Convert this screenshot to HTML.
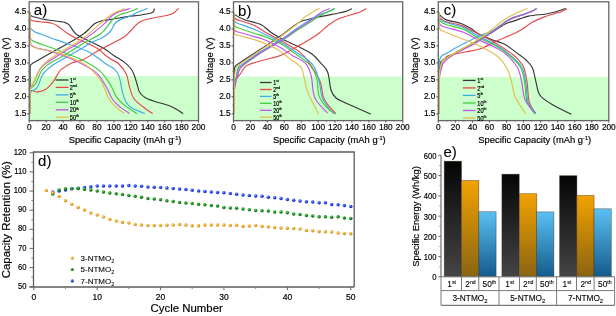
<!DOCTYPE html>
<html><head><meta charset="utf-8"><style>
html,body{margin:0;padding:0;background:#fff;width:616px;height:316px;overflow:hidden}
svg{display:block;will-change:transform}
text{font-family:"Liberation Sans",sans-serif;fill:#000;stroke:#000;stroke-width:0.18px}
.tk{font-size:8.3px}
.tkd{font-size:8.5px}
.tke{font-size:8.5px}
.pl{font-size:15px;fill:#000;stroke-width:0.1px}
.lg{stroke-width:0.2px}
.lgd{font-size:8px;stroke-width:0.08px}
.at{font-size:9.4px}
.atd{font-size:11.4px}
.ate{font-size:9.4px}
.tb{font-size:8.3px;stroke-width:0.1px}
</style></head><body>
<svg width="616" height="316" viewBox="0 0 616 316">
<rect width="616" height="316" fill="#fff"/>
<rect x="29.2" y="76.1" width="169.3" height="44.5" fill="#ccffcc"/>
<path d="M30.1,12.0 L30.1,13.3 Q30.1,15.8 32.5,16.5 C33.8,16.8 36.8,17.8 40.0,18.5 C43.2,19.2 48.4,20.0 51.7,20.5 C55.0,21.0 57.8,21.3 60.0,21.6 C62.2,21.9 63.2,21.8 64.7,22.4 C66.2,22.9 67.6,23.4 69.1,24.9 C70.6,26.4 72.3,29.8 73.9,31.6 C75.5,33.4 76.2,34.3 78.6,35.8 C80.9,37.3 83.8,38.5 88.0,40.6 C92.2,42.7 99.8,46.1 104.0,48.5 C108.2,50.9 109.7,52.8 113.0,55.0 C116.3,57.2 121.0,59.8 123.8,61.9 C126.6,64.0 128.3,65.5 130.0,67.5 C131.7,69.5 132.7,71.4 133.8,74.0 C134.9,76.6 135.9,80.3 136.8,83.3 C137.8,86.3 138.1,89.6 139.5,92.0 C140.9,94.4 142.4,95.9 145.0,97.5 C147.6,99.1 151.4,100.3 155.0,101.5 C158.6,102.7 163.0,103.5 166.5,104.8 C170.0,106.0 173.2,107.5 176.0,109.0 C178.8,110.5 181.9,112.9 183.1,113.7" stroke="#363636" stroke-width="1.15" fill="none"/>
<path d="M30.1,113.8 L30.1,67.3 Q30.1,64.8 32.3,63.6 C35.3,61.8 43.5,57.0 50.2,53.2 C56.9,49.4 66.7,44.3 72.3,41.0 C77.9,37.7 81.2,35.5 84.0,33.5 C86.8,31.5 87.2,30.6 89.0,29.0 C90.8,27.4 92.5,25.1 94.5,23.8 C96.5,22.5 98.0,21.8 101.2,21.0 C104.4,20.2 109.1,19.7 113.5,19.0 C117.9,18.3 123.4,17.2 127.8,16.6 C132.2,16.0 136.2,15.8 140.0,15.2 C143.8,14.6 148.1,13.9 150.4,13.3 C152.7,12.7 153.1,12.2 153.7,11.4 C154.3,10.6 154.1,9.0 154.2,8.5" stroke="#363636" stroke-width="1.15" fill="none"/>
<path d="M30.1,12.0 L30.1,17.8 Q30.1,20.3 32.6,20.7 C33.8,20.9 36.8,21.4 40.0,21.8 C43.2,22.2 48.7,22.4 51.7,23.2 C54.7,23.9 55.4,24.6 58.0,26.3 C60.6,28.0 64.2,31.2 67.6,33.4 C71.0,35.6 75.2,37.9 78.6,39.6 C82.0,41.3 84.7,42.1 88.0,43.7 C91.3,45.3 95.5,47.1 98.3,49.0 C101.1,50.9 102.9,53.2 105.1,55.0 C107.3,56.8 109.3,58.0 111.6,59.5 C113.9,61.0 116.5,61.6 118.9,64.0 C121.4,66.4 124.5,70.3 126.3,74.1 C128.1,77.9 128.2,82.7 129.5,86.8 C130.8,90.9 131.2,94.9 133.8,98.5 C136.4,102.1 142.0,106.0 145.2,108.5 C148.3,111.0 151.4,112.7 152.7,113.5" stroke="#e44848" stroke-width="1.15" fill="none"/>
<path d="M30.1,113.8 L30.1,92.5 Q30.1,90.0 32.5,90.6 C33.4,90.8 35.4,92.1 37.5,91.9 C39.6,91.7 42.8,91.3 45.4,89.6 C48.0,87.9 51.2,84.2 53.3,81.6 C55.4,78.9 56.7,75.7 58.0,73.7 C59.3,71.7 58.9,71.2 61.3,69.4 C63.7,67.6 68.6,64.5 72.3,62.8 C76.0,61.1 79.2,61.5 83.4,59.5 C87.6,57.5 93.9,53.1 97.6,51.0 C101.3,48.9 101.2,49.1 105.6,46.8 C110.0,44.5 119.8,39.7 124.0,37.0 C128.2,34.3 128.9,32.6 131.0,30.5 C133.1,28.4 134.4,26.2 136.6,24.5 C138.8,22.8 139.3,21.5 144.3,20.0 C149.3,18.5 161.7,16.6 166.5,15.5 C171.3,14.4 171.2,14.5 173.2,13.3 C175.2,12.1 177.8,9.2 178.7,8.4" stroke="#e44848" stroke-width="1.15" fill="none"/>
<path d="M30.1,12.0 L30.1,26.0 Q30.1,28.5 32.2,29.9 C32.8,30.3 34.5,31.7 35.9,32.4 C37.3,33.1 38.1,33.0 40.7,34.0 C43.3,35.0 47.2,36.6 51.7,38.2 C56.2,39.8 61.5,41.5 67.6,43.7 C73.6,45.9 82.6,49.0 88.0,51.6 C93.4,54.2 96.8,57.4 100.0,59.5 C103.2,61.6 104.6,62.9 107.0,64.5 C109.4,66.1 112.3,67.1 114.3,69.0 C116.3,70.9 117.6,72.1 119.0,76.1 C120.4,80.1 121.4,88.5 122.6,92.8 C123.8,97.1 124.6,99.5 126.0,102.0 C127.4,104.5 129.0,106.0 131.0,107.5 C133.0,109.0 135.7,109.8 138.0,110.8 C140.3,111.8 143.9,113.2 145.1,113.7" stroke="#40aaea" stroke-width="1.15" fill="none"/>
<path d="M30.1,113.8 L30.1,94.5 Q30.1,92.0 32.2,90.6 C33.1,90.1 35.8,89.8 37.5,87.2 C39.2,84.6 40.6,78.2 42.2,75.3 C43.8,72.4 45.2,71.5 47.0,69.8 C48.8,68.1 50.6,66.6 53.0,65.0 C55.4,63.4 56.2,62.9 61.3,60.0 C66.4,57.1 78.6,50.3 83.4,47.5 C88.2,44.7 86.8,44.7 90.0,43.0 C93.2,41.3 99.3,39.4 102.7,37.5 C106.1,35.6 108.2,33.9 110.3,31.5 C112.4,29.1 113.4,25.1 115.3,23.0 C117.2,20.9 119.1,20.0 121.6,18.9 C124.0,17.8 127.4,17.4 130.0,16.3 C132.6,15.2 134.1,13.8 137.0,12.5 C139.9,11.2 145.8,9.2 147.6,8.5" stroke="#40aaea" stroke-width="1.15" fill="none"/>
<path d="M30.1,12.0 L30.1,33.3 Q30.1,35.8 30.6,37.8 C30.7,38.1 30.1,38.9 31.2,39.8 C32.3,40.6 34.1,41.6 37.5,42.9 C40.9,44.2 46.7,45.9 51.7,47.7 C56.7,49.6 62.0,51.7 67.6,54.0 C73.1,56.3 79.6,58.6 85.0,61.4 C90.4,64.2 95.6,67.0 99.8,70.9 C104.0,74.8 107.6,80.3 110.4,84.7 C113.2,89.1 114.3,93.9 116.8,97.4 C119.3,100.9 121.9,103.2 125.3,105.9 C128.7,108.6 135.0,112.2 136.9,113.5" stroke="#40cc40" stroke-width="1.15" fill="none"/>
<path d="M30.1,113.8 L30.1,91.5 Q30.1,89.0 31.9,87.2 C32.5,86.6 34.4,85.7 35.9,83.2 C37.4,80.7 39.1,75.0 40.7,72.2 C42.3,69.4 43.5,68.3 45.4,66.6 C47.3,64.9 49.4,63.6 52.0,62.0 C54.6,60.4 56.1,60.1 61.3,57.0 C66.5,53.9 76.8,47.2 83.4,43.2 C90.1,39.2 96.4,37.2 101.2,33.3 C106.0,29.4 109.2,23.1 112.3,20.0 C115.4,16.9 117.4,15.8 120.0,14.5 C122.6,13.2 124.8,13.2 127.8,12.2 C130.8,11.2 136.4,9.1 138.1,8.5" stroke="#40cc40" stroke-width="1.15" fill="none"/>
<path d="M30.1,12.0 L30.1,38.1 Q30.1,40.6 30.6,43.0 C30.7,43.3 30.3,44.5 31.2,45.3 C32.1,46.1 32.5,46.7 35.9,47.7 C39.3,48.8 46.4,50.0 51.7,51.6 C57.0,53.2 62.0,54.9 67.6,57.2 C73.1,59.5 80.0,62.8 85.0,65.6 C90.0,68.4 94.2,70.6 97.7,74.1 C101.2,77.6 103.7,82.6 106.2,86.8 C108.7,91.0 110.3,96.2 112.6,99.5 C114.9,102.8 117.2,104.6 120.0,106.9 C122.8,109.2 127.9,112.4 129.5,113.5" stroke="#c452ea" stroke-width="1.15" fill="none"/>
<path d="M30.1,113.8 L30.1,91.0 Q30.1,88.5 31.4,86.4 C31.9,85.6 33.0,84.2 34.3,81.6 C35.6,79.0 37.5,73.4 39.1,70.6 C40.7,67.8 41.8,66.8 43.8,65.0 C45.8,63.2 48.1,61.9 51.0,60.0 C53.9,58.1 55.9,56.9 61.3,53.5 C66.7,50.1 76.8,44.4 83.4,39.9 C90.1,35.4 96.4,30.7 101.2,26.6 C106.0,22.5 109.2,18.0 112.3,15.5 C115.4,13.0 117.0,12.7 120.0,11.5 C123.0,10.3 128.8,9.0 130.5,8.5" stroke="#c452ea" stroke-width="1.15" fill="none"/>
<path d="M30.1,12.0 L30.1,37.5 Q30.1,40.0 30.6,42.4 C30.7,42.9 30.1,44.0 31.2,45.0 C32.3,46.0 32.8,47.1 37.5,48.5 C42.2,49.9 51.7,50.7 59.6,53.4 C67.5,56.1 79.0,61.0 85.0,64.5 C91.0,68.0 92.8,71.1 95.6,74.1 C98.4,77.1 99.9,78.7 102.0,82.6 C104.1,86.5 106.2,93.5 108.3,97.4 C110.4,101.3 112.0,103.2 114.7,105.9 C117.4,108.6 122.6,112.2 124.2,113.5" stroke="#e4bc50" stroke-width="1.15" fill="none"/>
<path d="M30.1,113.8 L30.1,91.5 Q30.1,89.0 31.3,86.8 C31.8,86.0 32.7,84.7 34.0,82.0 C35.3,79.3 37.4,73.4 39.0,70.5 C40.6,67.6 41.7,66.4 43.5,64.5 C45.3,62.6 47.0,61.1 50.0,59.0 C53.0,56.9 55.7,55.3 61.3,51.8 C66.9,48.3 77.1,42.5 83.4,38.0 C89.7,33.5 94.6,28.4 99.0,24.6 C103.4,20.9 106.9,17.7 110.0,15.5 C113.1,13.3 115.0,12.7 117.5,11.5 C120.0,10.3 123.6,9.0 124.8,8.5" stroke="#e4bc50" stroke-width="1.15" fill="none"/>
<rect x="29.2" y="1.8" width="169.3" height="118.8" fill="none" stroke="#666" stroke-width="1.3"/>
<line x1="27.2" y1="113.8" x2="29.2" y2="113.8" stroke="#555" stroke-width="1"/>
<text x="26.4" y="115.8" text-anchor="end" class="tk">1.5</text>
<line x1="27.2" y1="96.8" x2="29.2" y2="96.8" stroke="#555" stroke-width="1"/>
<text x="26.4" y="98.8" text-anchor="end" class="tk">2.0</text>
<line x1="27.2" y1="79.9" x2="29.2" y2="79.9" stroke="#555" stroke-width="1"/>
<text x="26.4" y="81.9" text-anchor="end" class="tk">2.5</text>
<line x1="27.2" y1="62.9" x2="29.2" y2="62.9" stroke="#555" stroke-width="1"/>
<text x="26.4" y="64.9" text-anchor="end" class="tk">3.0</text>
<line x1="27.2" y1="45.9" x2="29.2" y2="45.9" stroke="#555" stroke-width="1"/>
<text x="26.4" y="47.9" text-anchor="end" class="tk">3.5</text>
<line x1="27.2" y1="29.0" x2="29.2" y2="29.0" stroke="#555" stroke-width="1"/>
<text x="26.4" y="31.0" text-anchor="end" class="tk">4.0</text>
<line x1="27.2" y1="12.0" x2="29.2" y2="12.0" stroke="#555" stroke-width="1"/>
<text x="26.4" y="14.0" text-anchor="end" class="tk">4.5</text>
<line x1="28.0" y1="105.3" x2="29.2" y2="105.3" stroke="#777" stroke-width="0.8"/>
<line x1="28.0" y1="88.3" x2="29.2" y2="88.3" stroke="#777" stroke-width="0.8"/>
<line x1="28.0" y1="71.4" x2="29.2" y2="71.4" stroke="#777" stroke-width="0.8"/>
<line x1="28.0" y1="54.4" x2="29.2" y2="54.4" stroke="#777" stroke-width="0.8"/>
<line x1="28.0" y1="37.4" x2="29.2" y2="37.4" stroke="#777" stroke-width="0.8"/>
<line x1="28.0" y1="20.5" x2="29.2" y2="20.5" stroke="#777" stroke-width="0.8"/>
<line x1="29.2" y1="120.6" x2="29.2" y2="122.6" stroke="#555" stroke-width="1"/>
<text x="29.2" y="130.4" text-anchor="middle" class="tk">0</text>
<line x1="46.1" y1="120.6" x2="46.1" y2="122.6" stroke="#555" stroke-width="1"/>
<text x="46.1" y="130.4" text-anchor="middle" class="tk">20</text>
<line x1="63.1" y1="120.6" x2="63.1" y2="122.6" stroke="#555" stroke-width="1"/>
<text x="63.1" y="130.4" text-anchor="middle" class="tk">40</text>
<line x1="80.0" y1="120.6" x2="80.0" y2="122.6" stroke="#555" stroke-width="1"/>
<text x="80.0" y="130.4" text-anchor="middle" class="tk">60</text>
<line x1="96.9" y1="120.6" x2="96.9" y2="122.6" stroke="#555" stroke-width="1"/>
<text x="96.9" y="130.4" text-anchor="middle" class="tk">80</text>
<line x1="113.9" y1="120.6" x2="113.9" y2="122.6" stroke="#555" stroke-width="1"/>
<text x="113.9" y="130.4" text-anchor="middle" class="tk">100</text>
<line x1="130.8" y1="120.6" x2="130.8" y2="122.6" stroke="#555" stroke-width="1"/>
<text x="130.8" y="130.4" text-anchor="middle" class="tk">120</text>
<line x1="147.7" y1="120.6" x2="147.7" y2="122.6" stroke="#555" stroke-width="1"/>
<text x="147.7" y="130.4" text-anchor="middle" class="tk">140</text>
<line x1="164.6" y1="120.6" x2="164.6" y2="122.6" stroke="#555" stroke-width="1"/>
<text x="164.6" y="130.4" text-anchor="middle" class="tk">160</text>
<line x1="181.6" y1="120.6" x2="181.6" y2="122.6" stroke="#555" stroke-width="1"/>
<text x="181.6" y="130.4" text-anchor="middle" class="tk">180</text>
<line x1="198.5" y1="120.6" x2="198.5" y2="122.6" stroke="#555" stroke-width="1"/>
<text x="198.5" y="130.4" text-anchor="middle" class="tk">200</text>
<line x1="37.7" y1="120.6" x2="37.7" y2="121.8" stroke="#777" stroke-width="0.8"/>
<line x1="54.6" y1="120.6" x2="54.6" y2="121.8" stroke="#777" stroke-width="0.8"/>
<line x1="71.5" y1="120.6" x2="71.5" y2="121.8" stroke="#777" stroke-width="0.8"/>
<line x1="88.5" y1="120.6" x2="88.5" y2="121.8" stroke="#777" stroke-width="0.8"/>
<line x1="105.4" y1="120.6" x2="105.4" y2="121.8" stroke="#777" stroke-width="0.8"/>
<line x1="122.3" y1="120.6" x2="122.3" y2="121.8" stroke="#777" stroke-width="0.8"/>
<line x1="139.2" y1="120.6" x2="139.2" y2="121.8" stroke="#777" stroke-width="0.8"/>
<line x1="156.2" y1="120.6" x2="156.2" y2="121.8" stroke="#777" stroke-width="0.8"/>
<line x1="173.1" y1="120.6" x2="173.1" y2="121.8" stroke="#777" stroke-width="0.8"/>
<line x1="190.0" y1="120.6" x2="190.0" y2="121.8" stroke="#777" stroke-width="0.8"/>
<text x="33.8" y="14.6" class="pl">a)</text>
<line x1="55.7" y1="80.0" x2="68.5" y2="80.0" stroke="#363636" stroke-width="1.3"/>
<text transform="translate(69.8,82.6) scale(0.8,1)" class="lg" font-size="7">1<tspan dy="-2.9" font-size="4.3">st</tspan></text>
<line x1="55.7" y1="87.4" x2="68.5" y2="87.4" stroke="#e44848" stroke-width="1.3"/>
<text transform="translate(69.8,90.0) scale(0.8,1)" class="lg" font-size="7">2<tspan dy="-2.9" font-size="4.3">nd</tspan></text>
<line x1="55.7" y1="94.9" x2="68.5" y2="94.9" stroke="#40aaea" stroke-width="1.3"/>
<text transform="translate(69.8,97.5) scale(0.8,1)" class="lg" font-size="7">5<tspan dy="-2.9" font-size="4.3">th</tspan></text>
<line x1="55.7" y1="102.3" x2="68.5" y2="102.3" stroke="#40cc40" stroke-width="1.3"/>
<text transform="translate(69.8,104.9) scale(0.8,1)" class="lg" font-size="7">10<tspan dy="-2.9" font-size="4.3">th</tspan></text>
<line x1="55.7" y1="109.8" x2="68.5" y2="109.8" stroke="#c452ea" stroke-width="1.3"/>
<text transform="translate(69.8,112.4) scale(0.8,1)" class="lg" font-size="7">20<tspan dy="-2.9" font-size="4.3">th</tspan></text>
<line x1="55.7" y1="117.2" x2="68.5" y2="117.2" stroke="#e4bc50" stroke-width="1.3"/>
<text transform="translate(69.8,119.8) scale(0.8,1)" class="lg" font-size="7">50<tspan dy="-2.9" font-size="4.3">th</tspan></text>
<text x="125.05" y="143.2" text-anchor="middle" class="at">Specific Capacity (mAh g<tspan dy="-3.2" font-size="5.6">-1</tspan><tspan dy="3.2">)</tspan></text>
<text transform="translate(9.0,60.5) rotate(-90)" text-anchor="middle" class="at">Voltage (V)</text>
<rect x="233.5" y="76.5" width="169.2" height="44.099999999999994" fill="#ccffcc"/>
<path d="M234.4,12.0 C234.4,12.4 232.6,13.1 234.4,14.4 C236.2,15.7 240.9,18.3 245.3,20.0 C249.7,21.7 256.6,22.4 260.8,24.4 C265.1,26.4 266.9,29.6 270.8,32.2 C274.7,34.8 279.4,37.6 284.0,40.0 C288.6,42.4 293.8,44.3 298.5,46.6 C303.2,48.9 308.2,51.2 312.0,54.0 C315.8,56.8 318.4,60.3 321.0,63.3 C323.6,66.3 326.0,67.8 327.7,72.2 C329.4,76.7 329.6,85.7 331.0,90.0 C332.4,94.3 333.6,95.9 336.0,98.0 C338.4,100.1 341.9,101.2 345.1,102.7 C348.3,104.2 350.9,105.3 355.2,107.2 C359.5,109.1 368.3,112.9 370.9,114.1" stroke="#363636" stroke-width="1.15" fill="none"/>
<path d="M234.4,113.8 L234.4,68.8 Q234.4,66.3 236.5,64.9 C240.4,62.4 252.7,54.3 260.0,49.5 C267.3,44.7 273.5,40.7 280.0,36.2 C286.5,31.7 294.0,25.4 299.0,22.5 C304.0,19.6 306.0,20.1 310.0,19.0 C314.0,17.9 318.0,17.1 323.0,16.1 C328.0,15.1 336.2,13.6 340.0,12.8 C343.8,12.0 343.7,12.1 345.7,11.4 C347.7,10.7 350.9,9.2 351.9,8.8" stroke="#363636" stroke-width="1.15" fill="none"/>
<path d="M234.4,12.0 L234.4,16.3 Q234.4,18.8 236.8,19.6 C239.7,20.6 249.5,23.4 254.2,25.5 C258.9,27.6 260.6,29.5 265.0,32.0 C269.4,34.5 275.3,37.5 280.8,40.6 C286.3,43.8 294.1,48.1 298.2,50.9 C302.3,53.7 302.6,54.4 305.2,57.6 C307.8,60.8 311.4,65.8 314.0,70.0 C316.6,74.2 318.9,78.0 320.5,82.6 C322.1,87.2 322.0,93.4 323.5,97.4 C325.0,101.5 327.4,104.2 329.5,106.9 C331.6,109.6 334.8,112.4 335.9,113.5" stroke="#e44848" stroke-width="1.15" fill="none"/>
<path d="M234.4,113.8 L234.4,89.1 Q234.4,86.6 234.8,84.1 C235.0,83.5 234.8,81.5 235.6,80.0 C236.4,78.5 237.9,77.3 239.4,75.2 C240.9,73.1 243.1,69.3 244.5,67.6 C245.9,65.9 245.4,66.1 248.0,65.0 C250.6,63.9 256.0,62.2 260.0,61.0 C264.0,59.8 268.4,59.0 272.0,58.0 C275.6,57.0 276.8,57.2 281.5,55.0 C286.2,52.8 295.3,47.6 300.0,45.0 C304.7,42.4 306.4,41.5 309.6,39.5 C312.8,37.5 315.9,35.5 319.0,33.2 C322.1,30.9 324.8,27.9 328.0,25.5 C331.2,23.1 335.0,20.5 338.0,19.0 C341.0,17.5 343.5,17.1 346.0,16.3 C348.5,15.5 350.8,14.9 353.1,14.2 C355.4,13.5 357.8,12.9 360.0,12.0 C362.2,11.1 365.3,9.1 366.4,8.5" stroke="#e44848" stroke-width="1.15" fill="none"/>
<path d="M234.4,12.0 L234.4,19.7 Q234.4,22.2 236.8,23.0 C239.7,24.1 249.5,27.4 254.2,29.3 C258.9,31.2 260.6,32.1 265.0,34.3 C269.4,36.4 275.5,39.2 280.8,42.2 C286.1,45.2 292.1,49.5 296.6,52.5 C301.1,55.5 304.8,57.5 307.8,60.0 C310.8,62.5 312.8,63.9 314.7,67.7 C316.6,71.5 318.3,77.6 319.5,82.6 C320.7,87.5 320.6,93.2 322.1,97.4 C323.6,101.6 326.4,105.2 328.5,108.0 C330.6,110.8 333.8,112.9 334.8,113.9" stroke="#40aaea" stroke-width="1.15" fill="none"/>
<path d="M234.4,113.8 L234.4,90.0 Q234.4,87.5 234.9,85.0 C235.4,82.2 236.7,71.5 238.0,68.0 C239.3,64.5 238.7,67.0 242.4,64.3 C246.1,61.6 253.3,56.3 260.0,52.0 C266.7,47.7 276.8,42.3 282.8,38.5 C288.8,34.7 291.5,32.1 296.0,29.0 C300.5,25.9 306.0,22.4 310.0,20.0 C314.0,17.6 317.2,15.8 320.0,14.5 C322.8,13.2 324.2,13.3 326.7,12.3 C329.1,11.3 333.4,9.1 334.7,8.5" stroke="#40aaea" stroke-width="1.15" fill="none"/>
<path d="M234.4,12.0 L234.4,24.1 Q234.4,26.6 236.8,27.4 C239.7,28.4 249.5,31.8 254.2,33.3 C258.9,34.8 260.6,34.9 265.0,36.6 C269.4,38.4 276.1,41.1 280.8,43.8 C285.6,46.4 290.0,50.0 293.5,52.5 C297.0,55.0 299.2,56.3 302.0,58.5 C304.8,60.7 307.9,62.3 310.4,65.6 C312.9,68.9 315.4,73.3 316.8,78.3 C318.2,83.2 317.5,90.7 318.9,95.3 C320.3,99.9 322.8,102.9 325.3,105.9 C327.8,108.9 332.4,112.2 333.8,113.5" stroke="#40cc40" stroke-width="1.15" fill="none"/>
<path d="M234.4,113.8 L234.4,90.5 Q234.4,88.0 234.9,85.6 C235.5,82.8 237.2,72.3 238.5,69.0 C239.8,65.7 239.4,68.1 243.0,65.5 C246.6,62.9 253.5,57.7 260.0,53.5 C266.5,49.3 276.0,44.2 282.0,40.5 C288.0,36.8 291.3,34.0 296.0,31.0 C300.7,28.0 306.0,24.9 310.0,22.3 C314.0,19.7 317.2,17.1 320.0,15.5 C322.8,13.9 324.2,13.7 326.7,12.5 C329.1,11.3 333.4,9.2 334.7,8.5" stroke="#40cc40" stroke-width="1.15" fill="none"/>
<path d="M234.4,12.0 L234.4,28.5 Q234.4,31.0 236.8,31.7 C239.7,32.5 249.5,35.2 254.2,36.6 C258.9,38.0 260.6,38.1 265.0,40.0 C269.4,41.9 276.4,45.2 280.8,47.7 C285.2,50.2 287.5,52.4 291.6,55.0 C295.7,57.6 302.2,59.9 305.5,63.3 C308.8,66.7 309.8,70.7 311.1,75.5 C312.4,80.3 312.4,87.8 313.3,92.1 C314.2,96.3 314.2,97.5 316.6,101.0 C319.0,104.5 325.9,111.2 327.7,113.2" stroke="#c452ea" stroke-width="1.15" fill="none"/>
<path d="M234.4,113.8 L234.4,91.0 Q234.4,88.5 235.0,86.1 C235.5,84.1 236.7,77.5 238.0,74.0 C239.3,70.5 239.3,68.5 243.0,65.0 C246.7,61.5 253.5,57.2 260.0,53.0 C266.5,48.8 276.0,43.8 282.0,40.0 C288.0,36.2 291.3,33.2 296.0,30.0 C300.7,26.8 306.3,23.6 310.0,21.0 C313.7,18.4 315.8,16.1 318.0,14.5 C320.2,12.9 321.1,12.4 323.0,11.4 C324.9,10.4 328.5,9.0 329.6,8.5" stroke="#c452ea" stroke-width="1.15" fill="none"/>
<path d="M234.4,12.0 L234.4,31.9 Q234.4,34.4 236.8,35.0 C237.9,35.3 239.2,35.5 243.1,36.6 C247.0,37.7 254.5,39.6 260.0,41.6 C265.5,43.6 271.3,45.9 276.3,48.8 C281.3,51.7 285.9,55.8 290.0,58.9 C294.1,62.0 298.7,64.4 301.1,67.7 C303.5,71.0 303.3,74.7 304.4,78.8 C305.5,82.9 305.3,86.2 307.7,92.1 C310.1,98.0 316.9,110.6 318.8,114.3" stroke="#e4bc50" stroke-width="1.15" fill="none"/>
<path d="M234.4,113.8 L234.4,90.5 Q234.4,88.0 234.4,85.5 C234.4,83.9 234.2,79.1 234.5,76.0 C234.8,72.9 235.4,69.1 236.4,67.0 C237.4,64.9 236.8,66.2 240.7,63.5 C244.6,60.8 253.4,54.9 260.0,50.5 C266.6,46.1 273.7,41.6 280.0,37.1 C286.3,32.6 294.0,26.5 298.0,23.3 C302.0,20.1 302.0,19.4 304.0,17.8 C306.0,16.2 308.4,14.9 310.0,13.8 C311.6,12.7 311.9,12.3 313.5,11.4 C315.1,10.5 318.6,8.9 319.6,8.4" stroke="#e4bc50" stroke-width="1.15" fill="none"/>
<rect x="233.5" y="1.8" width="169.2" height="118.8" fill="none" stroke="#666" stroke-width="1.3"/>
<line x1="231.5" y1="113.8" x2="233.5" y2="113.8" stroke="#555" stroke-width="1"/>
<text x="230.7" y="115.8" text-anchor="end" class="tk">1.5</text>
<line x1="231.5" y1="96.8" x2="233.5" y2="96.8" stroke="#555" stroke-width="1"/>
<text x="230.7" y="98.8" text-anchor="end" class="tk">2.0</text>
<line x1="231.5" y1="79.9" x2="233.5" y2="79.9" stroke="#555" stroke-width="1"/>
<text x="230.7" y="81.9" text-anchor="end" class="tk">2.5</text>
<line x1="231.5" y1="62.9" x2="233.5" y2="62.9" stroke="#555" stroke-width="1"/>
<text x="230.7" y="64.9" text-anchor="end" class="tk">3.0</text>
<line x1="231.5" y1="45.9" x2="233.5" y2="45.9" stroke="#555" stroke-width="1"/>
<text x="230.7" y="47.9" text-anchor="end" class="tk">3.5</text>
<line x1="231.5" y1="29.0" x2="233.5" y2="29.0" stroke="#555" stroke-width="1"/>
<text x="230.7" y="31.0" text-anchor="end" class="tk">4.0</text>
<line x1="231.5" y1="12.0" x2="233.5" y2="12.0" stroke="#555" stroke-width="1"/>
<text x="230.7" y="14.0" text-anchor="end" class="tk">4.5</text>
<line x1="232.3" y1="105.3" x2="233.5" y2="105.3" stroke="#777" stroke-width="0.8"/>
<line x1="232.3" y1="88.3" x2="233.5" y2="88.3" stroke="#777" stroke-width="0.8"/>
<line x1="232.3" y1="71.4" x2="233.5" y2="71.4" stroke="#777" stroke-width="0.8"/>
<line x1="232.3" y1="54.4" x2="233.5" y2="54.4" stroke="#777" stroke-width="0.8"/>
<line x1="232.3" y1="37.4" x2="233.5" y2="37.4" stroke="#777" stroke-width="0.8"/>
<line x1="232.3" y1="20.5" x2="233.5" y2="20.5" stroke="#777" stroke-width="0.8"/>
<line x1="233.5" y1="120.6" x2="233.5" y2="122.6" stroke="#555" stroke-width="1"/>
<text x="233.5" y="130.4" text-anchor="middle" class="tk">0</text>
<line x1="250.4" y1="120.6" x2="250.4" y2="122.6" stroke="#555" stroke-width="1"/>
<text x="250.4" y="130.4" text-anchor="middle" class="tk">20</text>
<line x1="267.3" y1="120.6" x2="267.3" y2="122.6" stroke="#555" stroke-width="1"/>
<text x="267.3" y="130.4" text-anchor="middle" class="tk">40</text>
<line x1="284.3" y1="120.6" x2="284.3" y2="122.6" stroke="#555" stroke-width="1"/>
<text x="284.3" y="130.4" text-anchor="middle" class="tk">60</text>
<line x1="301.2" y1="120.6" x2="301.2" y2="122.6" stroke="#555" stroke-width="1"/>
<text x="301.2" y="130.4" text-anchor="middle" class="tk">80</text>
<line x1="318.1" y1="120.6" x2="318.1" y2="122.6" stroke="#555" stroke-width="1"/>
<text x="318.1" y="130.4" text-anchor="middle" class="tk">100</text>
<line x1="335.0" y1="120.6" x2="335.0" y2="122.6" stroke="#555" stroke-width="1"/>
<text x="335.0" y="130.4" text-anchor="middle" class="tk">120</text>
<line x1="351.9" y1="120.6" x2="351.9" y2="122.6" stroke="#555" stroke-width="1"/>
<text x="351.9" y="130.4" text-anchor="middle" class="tk">140</text>
<line x1="368.9" y1="120.6" x2="368.9" y2="122.6" stroke="#555" stroke-width="1"/>
<text x="368.9" y="130.4" text-anchor="middle" class="tk">160</text>
<line x1="385.8" y1="120.6" x2="385.8" y2="122.6" stroke="#555" stroke-width="1"/>
<text x="385.8" y="130.4" text-anchor="middle" class="tk">180</text>
<line x1="402.7" y1="120.6" x2="402.7" y2="122.6" stroke="#555" stroke-width="1"/>
<text x="402.7" y="130.4" text-anchor="middle" class="tk">200</text>
<line x1="242.0" y1="120.6" x2="242.0" y2="121.8" stroke="#777" stroke-width="0.8"/>
<line x1="258.9" y1="120.6" x2="258.9" y2="121.8" stroke="#777" stroke-width="0.8"/>
<line x1="275.8" y1="120.6" x2="275.8" y2="121.8" stroke="#777" stroke-width="0.8"/>
<line x1="292.7" y1="120.6" x2="292.7" y2="121.8" stroke="#777" stroke-width="0.8"/>
<line x1="309.6" y1="120.6" x2="309.6" y2="121.8" stroke="#777" stroke-width="0.8"/>
<line x1="326.6" y1="120.6" x2="326.6" y2="121.8" stroke="#777" stroke-width="0.8"/>
<line x1="343.5" y1="120.6" x2="343.5" y2="121.8" stroke="#777" stroke-width="0.8"/>
<line x1="360.4" y1="120.6" x2="360.4" y2="121.8" stroke="#777" stroke-width="0.8"/>
<line x1="377.3" y1="120.6" x2="377.3" y2="121.8" stroke="#777" stroke-width="0.8"/>
<line x1="394.2" y1="120.6" x2="394.2" y2="121.8" stroke="#777" stroke-width="0.8"/>
<text x="238.1" y="15.6" class="pl">b)</text>
<line x1="260.0" y1="82.5" x2="271.6" y2="82.5" stroke="#363636" stroke-width="1.3"/>
<text transform="translate(273.2,85.1) scale(0.8,1)" class="lg" font-size="6.7">1<tspan dy="-2.9" font-size="4.3">st</tspan></text>
<line x1="260.0" y1="89.5" x2="271.6" y2="89.5" stroke="#e44848" stroke-width="1.3"/>
<text transform="translate(273.2,92.0) scale(0.8,1)" class="lg" font-size="6.7">2<tspan dy="-2.9" font-size="4.3">nd</tspan></text>
<line x1="260.0" y1="96.4" x2="271.6" y2="96.4" stroke="#40aaea" stroke-width="1.3"/>
<text transform="translate(273.2,99.0) scale(0.8,1)" class="lg" font-size="6.7">5<tspan dy="-2.9" font-size="4.3">th</tspan></text>
<line x1="260.0" y1="103.3" x2="271.6" y2="103.3" stroke="#40cc40" stroke-width="1.3"/>
<text transform="translate(273.2,105.9) scale(0.8,1)" class="lg" font-size="6.7">10<tspan dy="-2.9" font-size="4.3">th</tspan></text>
<line x1="260.0" y1="110.3" x2="271.6" y2="110.3" stroke="#c452ea" stroke-width="1.3"/>
<text transform="translate(273.2,112.9) scale(0.8,1)" class="lg" font-size="6.7">20<tspan dy="-2.9" font-size="4.3">th</tspan></text>
<line x1="260.0" y1="117.2" x2="271.6" y2="117.2" stroke="#e4bc50" stroke-width="1.3"/>
<text transform="translate(273.2,119.8) scale(0.8,1)" class="lg" font-size="6.7">50<tspan dy="-2.9" font-size="4.3">th</tspan></text>
<text x="329.3" y="143.2" text-anchor="middle" class="at">Specific Capacity (mAh g<tspan dy="-3.2" font-size="5.6">-1</tspan><tspan dy="3.2">)</tspan></text>
<text transform="translate(213.3,60.5) rotate(-90)" text-anchor="middle" class="at">Voltage (V)</text>
<rect x="438.3" y="76.9" width="170.49999999999994" height="43.69999999999999" fill="#ccffcc"/>
<path d="M439.2,12.0 L439.2,12.7 Q439.2,15.2 441.3,16.6 C442.1,17.1 443.0,18.7 446.4,19.9 C449.8,21.1 457.5,22.3 461.6,23.7 C465.7,25.1 467.9,26.6 471.0,28.5 C474.1,30.4 476.5,33.1 480.5,35.1 C484.5,37.1 490.9,39.2 495.0,40.8 C499.1,42.4 501.1,42.2 505.2,44.6 C509.3,47.0 516.2,52.4 519.7,55.0 C523.2,57.6 523.9,57.9 526.0,60.0 C528.1,62.1 530.8,64.3 532.4,67.7 C534.0,71.1 534.5,76.2 535.6,80.4 C536.7,84.7 537.4,90.1 538.8,93.2 C540.2,96.3 541.3,96.9 544.0,99.1 C546.7,101.3 550.6,103.7 555.2,106.2 C559.8,108.7 568.7,113.0 571.4,114.3" stroke="#363636" stroke-width="1.15" fill="none"/>
<path d="M439.2,113.8 L439.2,83.5 Q439.2,81.0 439.2,78.5 C439.2,77.4 439.0,74.3 439.2,72.0 C439.4,69.7 439.7,66.4 440.2,64.5 C440.7,62.6 439.4,62.6 442.1,60.6 C444.8,58.6 450.9,55.5 456.4,52.5 C461.9,49.5 469.4,45.7 475.0,42.5 C480.6,39.3 485.0,36.6 490.0,33.5 C495.0,30.4 501.2,26.1 505.2,24.0 C509.2,21.9 510.3,22.2 514.2,20.9 C518.1,19.6 523.4,17.2 528.5,16.1 C533.6,15.0 540.7,14.8 545.0,14.2 C549.3,13.6 550.8,13.2 554.2,12.3 C557.6,11.4 563.7,9.1 565.6,8.5" stroke="#363636" stroke-width="1.15" fill="none"/>
<path d="M439.2,12.0 L439.2,15.5 Q439.2,18.0 441.4,19.2 C442.2,19.6 443.0,20.7 446.4,21.8 C449.8,22.9 457.2,24.0 461.6,25.6 C466.0,27.2 467.4,28.4 473.0,31.3 C478.6,34.1 488.3,38.8 495.0,42.7 C501.7,46.7 509.4,52.1 513.3,55.0 C517.2,57.9 516.7,57.9 518.5,60.0 C520.3,62.1 522.5,63.9 523.9,67.7 C525.3,71.5 526.2,76.9 527.1,82.6 C528.0,88.2 527.8,96.5 529.2,101.6 C530.6,106.7 534.5,111.3 535.6,113.3" stroke="#e44848" stroke-width="1.15" fill="none"/>
<path d="M439.2,113.8 L439.2,83.5 Q439.2,81.0 439.4,78.5 C439.4,77.4 439.4,74.4 439.8,72.0 C440.2,69.6 440.8,66.1 441.5,64.0 C442.2,61.9 442.7,60.9 444.0,59.5 C445.3,58.1 445.8,56.6 449.3,55.4 C452.8,54.1 459.8,53.1 465.0,52.0 C470.2,50.9 475.0,50.6 480.3,48.8 C485.6,47.0 491.3,43.4 496.6,41.0 C501.9,38.6 508.1,36.3 512.1,34.5 C516.1,32.7 517.4,32.1 520.9,30.0 C524.4,27.9 529.2,24.0 533.2,21.8 C537.2,19.6 540.8,18.2 545.0,16.6 C549.2,15.1 555.6,13.5 558.6,12.5 C561.6,11.5 561.6,11.3 563.0,10.7 C564.4,10.1 566.3,9.2 567.0,8.9" stroke="#e44848" stroke-width="1.15" fill="none"/>
<path d="M439.2,12.0 L439.2,16.5 Q439.2,19.0 441.4,20.2 C442.2,20.6 442.7,21.6 446.4,22.8 C450.1,24.0 458.4,25.4 463.5,27.5 C468.6,29.6 471.4,32.2 476.7,35.1 C481.9,38.0 489.4,41.3 495.0,44.6 C500.6,47.9 505.5,51.1 510.0,55.0 C514.5,58.9 519.3,62.8 522.0,67.7 C524.7,72.7 525.0,79.1 526.0,84.7 C527.0,90.3 526.3,96.7 528.0,101.6 C529.7,106.5 534.7,111.9 536.0,113.9" stroke="#40aaea" stroke-width="1.15" fill="none"/>
<path d="M439.2,113.8 L439.2,83.5 Q439.2,81.0 439.1,78.5 C439.1,77.1 438.8,72.9 438.9,70.0 C439.0,67.1 439.1,63.3 439.5,61.0 C439.9,58.7 440.1,57.4 441.5,56.0 C442.9,54.6 445.2,54.1 448.0,52.5 C450.8,50.9 452.8,49.4 458.2,46.6 C463.6,43.8 475.0,37.9 480.3,35.5 C485.6,33.1 486.7,33.6 490.0,32.0 C493.3,30.4 497.2,27.5 500.0,25.6 C502.8,23.7 504.6,21.9 507.0,20.5 C509.4,19.1 511.4,18.2 514.2,17.1 C517.0,16.1 520.9,15.1 523.7,14.2 C526.6,13.2 529.1,12.3 531.3,11.4 C533.4,10.5 535.7,9.0 536.6,8.5" stroke="#40aaea" stroke-width="1.15" fill="none"/>
<path d="M439.2,12.0 L439.2,18.4 Q439.2,20.9 441.4,22.1 C442.2,22.5 442.7,23.5 446.4,24.7 C450.1,25.9 458.4,27.3 463.5,29.4 C468.6,31.4 471.4,34.3 476.7,37.0 C481.9,39.7 489.6,42.5 495.0,45.5 C500.4,48.5 504.8,51.3 509.1,55.0 C513.4,58.7 518.1,62.8 520.7,67.7 C523.4,72.7 523.9,79.1 525.0,84.7 C526.1,90.3 525.3,96.7 527.1,101.6 C528.9,106.5 534.2,111.9 535.6,113.9" stroke="#40cc40" stroke-width="1.15" fill="none"/>
<path d="M439.2,113.8 L439.2,83.5 Q439.2,81.0 439.3,78.5 C439.3,77.4 439.2,74.3 439.5,72.0 C439.8,69.7 440.1,67.0 440.8,65.0 C441.5,63.0 440.9,62.1 443.5,60.0 C446.1,57.9 451.1,55.1 456.4,52.1 C461.6,49.1 469.4,45.3 475.0,42.1 C480.6,38.9 485.8,35.7 490.0,33.0 C494.2,30.3 497.2,28.0 500.0,26.0 C502.8,24.0 504.6,22.4 507.0,21.0 C509.4,19.6 511.4,18.5 514.2,17.4 C517.0,16.3 520.9,15.4 523.7,14.4 C526.6,13.4 529.1,12.5 531.3,11.5 C533.4,10.5 535.7,9.1 536.6,8.6" stroke="#40cc40" stroke-width="1.15" fill="none"/>
<path d="M439.2,12.0 L439.2,22.2 Q439.2,24.7 441.5,25.6 C442.3,25.9 442.7,26.4 446.4,27.5 C450.1,28.6 458.4,30.4 463.5,32.3 C468.6,34.2 471.4,36.4 476.7,38.9 C481.9,41.4 489.9,44.7 495.0,47.4 C500.1,50.1 503.2,51.6 507.0,55.0 C510.8,58.4 515.1,63.1 517.6,67.7 C520.1,72.3 520.6,77.3 521.8,82.6 C523.0,87.9 522.9,94.4 525.0,99.5 C527.1,104.6 532.9,111.0 534.5,113.3" stroke="#c452ea" stroke-width="1.15" fill="none"/>
<path d="M439.2,113.8 L439.2,83.5 Q439.2,81.0 439.5,78.5 C439.6,77.8 439.6,76.1 440.0,74.0 C440.4,71.9 441.4,68.1 442.1,66.0 C442.9,63.9 442.1,63.7 444.5,61.5 C446.9,59.3 451.3,56.0 456.4,53.0 C461.5,50.0 469.4,46.8 475.0,43.5 C480.6,40.2 485.8,36.4 490.0,33.5 C494.2,30.6 497.2,28.3 500.0,26.3 C502.8,24.3 504.6,22.8 507.0,21.3 C509.4,19.9 511.4,18.7 514.2,17.6 C517.0,16.5 520.9,15.6 523.7,14.6 C526.6,13.6 529.1,12.6 531.3,11.6 C533.4,10.6 535.7,9.2 536.6,8.7" stroke="#c452ea" stroke-width="1.15" fill="none"/>
<path d="M439.2,12.0 L439.2,26.0 Q439.2,28.5 440.4,29.5 C440.5,29.7 438.5,29.2 441.5,30.5 C444.5,31.8 451.7,34.7 458.2,37.3 C464.7,39.9 473.7,43.0 480.3,46.2 C486.9,49.5 493.6,53.1 498.0,56.8 C502.4,60.5 504.8,64.6 507.0,68.5 C509.2,72.4 509.8,75.6 511.2,80.4 C512.6,85.2 512.9,91.8 515.4,97.4 C517.9,103.0 524.2,111.2 526.0,113.9" stroke="#e4bc50" stroke-width="1.15" fill="none"/>
<path d="M439.2,113.8 L439.2,83.5 Q439.2,81.0 439.3,78.5 C439.4,77.4 439.3,74.3 439.6,72.0 C439.9,69.7 440.4,67.0 441.0,65.0 C441.6,63.0 440.9,62.3 443.5,60.2 C446.1,58.1 451.1,55.4 456.4,52.3 C461.6,49.2 469.4,45.0 475.0,41.5 C480.6,38.0 485.8,34.1 490.0,31.0 C494.2,27.9 497.2,25.0 500.0,22.8 C502.8,20.6 504.6,19.4 507.0,18.0 C509.4,16.6 511.9,15.4 514.2,14.2 C516.5,13.0 518.8,11.9 521.0,11.0 C523.2,10.1 526.4,8.9 527.5,8.5" stroke="#e4bc50" stroke-width="1.15" fill="none"/>
<rect x="438.3" y="1.8" width="170.49999999999994" height="118.8" fill="none" stroke="#666" stroke-width="1.3"/>
<line x1="436.3" y1="113.8" x2="438.3" y2="113.8" stroke="#555" stroke-width="1"/>
<text x="435.5" y="115.8" text-anchor="end" class="tk">1.5</text>
<line x1="436.3" y1="96.8" x2="438.3" y2="96.8" stroke="#555" stroke-width="1"/>
<text x="435.5" y="98.8" text-anchor="end" class="tk">2.0</text>
<line x1="436.3" y1="79.9" x2="438.3" y2="79.9" stroke="#555" stroke-width="1"/>
<text x="435.5" y="81.9" text-anchor="end" class="tk">2.5</text>
<line x1="436.3" y1="62.9" x2="438.3" y2="62.9" stroke="#555" stroke-width="1"/>
<text x="435.5" y="64.9" text-anchor="end" class="tk">3.0</text>
<line x1="436.3" y1="45.9" x2="438.3" y2="45.9" stroke="#555" stroke-width="1"/>
<text x="435.5" y="47.9" text-anchor="end" class="tk">3.5</text>
<line x1="436.3" y1="29.0" x2="438.3" y2="29.0" stroke="#555" stroke-width="1"/>
<text x="435.5" y="31.0" text-anchor="end" class="tk">4.0</text>
<line x1="436.3" y1="12.0" x2="438.3" y2="12.0" stroke="#555" stroke-width="1"/>
<text x="435.5" y="14.0" text-anchor="end" class="tk">4.5</text>
<line x1="437.1" y1="105.3" x2="438.3" y2="105.3" stroke="#777" stroke-width="0.8"/>
<line x1="437.1" y1="88.3" x2="438.3" y2="88.3" stroke="#777" stroke-width="0.8"/>
<line x1="437.1" y1="71.4" x2="438.3" y2="71.4" stroke="#777" stroke-width="0.8"/>
<line x1="437.1" y1="54.4" x2="438.3" y2="54.4" stroke="#777" stroke-width="0.8"/>
<line x1="437.1" y1="37.4" x2="438.3" y2="37.4" stroke="#777" stroke-width="0.8"/>
<line x1="437.1" y1="20.5" x2="438.3" y2="20.5" stroke="#777" stroke-width="0.8"/>
<line x1="438.3" y1="120.6" x2="438.3" y2="122.6" stroke="#555" stroke-width="1"/>
<text x="438.3" y="130.4" text-anchor="middle" class="tk">0</text>
<line x1="455.4" y1="120.6" x2="455.4" y2="122.6" stroke="#555" stroke-width="1"/>
<text x="455.4" y="130.4" text-anchor="middle" class="tk">20</text>
<line x1="472.4" y1="120.6" x2="472.4" y2="122.6" stroke="#555" stroke-width="1"/>
<text x="472.4" y="130.4" text-anchor="middle" class="tk">40</text>
<line x1="489.4" y1="120.6" x2="489.4" y2="122.6" stroke="#555" stroke-width="1"/>
<text x="489.4" y="130.4" text-anchor="middle" class="tk">60</text>
<line x1="506.5" y1="120.6" x2="506.5" y2="122.6" stroke="#555" stroke-width="1"/>
<text x="506.5" y="130.4" text-anchor="middle" class="tk">80</text>
<line x1="523.5" y1="120.6" x2="523.5" y2="122.6" stroke="#555" stroke-width="1"/>
<text x="523.5" y="130.4" text-anchor="middle" class="tk">100</text>
<line x1="540.6" y1="120.6" x2="540.6" y2="122.6" stroke="#555" stroke-width="1"/>
<text x="540.6" y="130.4" text-anchor="middle" class="tk">120</text>
<line x1="557.6" y1="120.6" x2="557.6" y2="122.6" stroke="#555" stroke-width="1"/>
<text x="557.6" y="130.4" text-anchor="middle" class="tk">140</text>
<line x1="574.7" y1="120.6" x2="574.7" y2="122.6" stroke="#555" stroke-width="1"/>
<text x="574.7" y="130.4" text-anchor="middle" class="tk">160</text>
<line x1="591.8" y1="120.6" x2="591.8" y2="122.6" stroke="#555" stroke-width="1"/>
<text x="591.8" y="130.4" text-anchor="middle" class="tk">180</text>
<line x1="608.8" y1="120.6" x2="608.8" y2="122.6" stroke="#555" stroke-width="1"/>
<text x="608.8" y="130.4" text-anchor="middle" class="tk">200</text>
<line x1="446.8" y1="120.6" x2="446.8" y2="121.8" stroke="#777" stroke-width="0.8"/>
<line x1="463.9" y1="120.6" x2="463.9" y2="121.8" stroke="#777" stroke-width="0.8"/>
<line x1="480.9" y1="120.6" x2="480.9" y2="121.8" stroke="#777" stroke-width="0.8"/>
<line x1="498.0" y1="120.6" x2="498.0" y2="121.8" stroke="#777" stroke-width="0.8"/>
<line x1="515.0" y1="120.6" x2="515.0" y2="121.8" stroke="#777" stroke-width="0.8"/>
<line x1="532.1" y1="120.6" x2="532.1" y2="121.8" stroke="#777" stroke-width="0.8"/>
<line x1="549.1" y1="120.6" x2="549.1" y2="121.8" stroke="#777" stroke-width="0.8"/>
<line x1="566.2" y1="120.6" x2="566.2" y2="121.8" stroke="#777" stroke-width="0.8"/>
<line x1="583.2" y1="120.6" x2="583.2" y2="121.8" stroke="#777" stroke-width="0.8"/>
<line x1="600.3" y1="120.6" x2="600.3" y2="121.8" stroke="#777" stroke-width="0.8"/>
<text x="443.7" y="14.8" class="pl">c)</text>
<line x1="462.8" y1="80.4" x2="475.6" y2="80.4" stroke="#363636" stroke-width="1.3"/>
<text transform="translate(477.3,83.0) scale(0.8,1)" class="lg" font-size="7">1<tspan dy="-2.9" font-size="4.3">st</tspan></text>
<line x1="462.8" y1="87.9" x2="475.6" y2="87.9" stroke="#e44848" stroke-width="1.3"/>
<text transform="translate(477.3,90.5) scale(0.8,1)" class="lg" font-size="7">2<tspan dy="-2.9" font-size="4.3">nd</tspan></text>
<line x1="462.8" y1="95.4" x2="475.6" y2="95.4" stroke="#40aaea" stroke-width="1.3"/>
<text transform="translate(477.3,98.0) scale(0.8,1)" class="lg" font-size="7">5<tspan dy="-2.9" font-size="4.3">th</tspan></text>
<line x1="462.8" y1="103.0" x2="475.6" y2="103.0" stroke="#40cc40" stroke-width="1.3"/>
<text transform="translate(477.3,105.6) scale(0.8,1)" class="lg" font-size="7">10<tspan dy="-2.9" font-size="4.3">th</tspan></text>
<line x1="462.8" y1="110.5" x2="475.6" y2="110.5" stroke="#c452ea" stroke-width="1.3"/>
<text transform="translate(477.3,113.1) scale(0.8,1)" class="lg" font-size="7">20<tspan dy="-2.9" font-size="4.3">th</tspan></text>
<line x1="462.8" y1="118.0" x2="475.6" y2="118.0" stroke="#e4bc50" stroke-width="1.3"/>
<text transform="translate(477.3,120.6) scale(0.8,1)" class="lg" font-size="7">50<tspan dy="-2.9" font-size="4.3">th</tspan></text>
<text x="534.75" y="143.2" text-anchor="middle" class="at">Specific Capacity (mAh g<tspan dy="-3.2" font-size="5.6">-1</tspan><tspan dy="3.2">)</tspan></text>
<text transform="translate(418.1,60.5) rotate(-90)" text-anchor="middle" class="at">Voltage (V)</text>
<path d="M33.5,287.0 V152.0 H354.2 V287.0" fill="none" stroke="#5c5c5c" stroke-width="1.3"/>
<line x1="29.5" y1="287.0" x2="354.2" y2="287.0" stroke="#5c5c5c" stroke-width="1.3"/>
<line x1="29.5" y1="286.7" x2="33.5" y2="286.7" stroke="#666" stroke-width="1"/>
<text transform="translate(26.5,288.8) scale(0.9,1)" text-anchor="end" class="tkd">50</text>
<line x1="31.3" y1="277.1" x2="33.5" y2="277.1" stroke="#777" stroke-width="0.9"/>
<line x1="29.5" y1="267.6" x2="33.5" y2="267.6" stroke="#666" stroke-width="1"/>
<text transform="translate(26.5,269.7) scale(0.9,1)" text-anchor="end" class="tkd">60</text>
<line x1="31.3" y1="258.0" x2="33.5" y2="258.0" stroke="#777" stroke-width="0.9"/>
<line x1="29.5" y1="248.4" x2="33.5" y2="248.4" stroke="#666" stroke-width="1"/>
<text transform="translate(26.5,250.5) scale(0.9,1)" text-anchor="end" class="tkd">70</text>
<line x1="31.3" y1="238.9" x2="33.5" y2="238.9" stroke="#777" stroke-width="0.9"/>
<line x1="29.5" y1="229.3" x2="33.5" y2="229.3" stroke="#666" stroke-width="1"/>
<text transform="translate(26.5,231.4) scale(0.9,1)" text-anchor="end" class="tkd">80</text>
<line x1="31.3" y1="219.7" x2="33.5" y2="219.7" stroke="#777" stroke-width="0.9"/>
<line x1="29.5" y1="210.2" x2="33.5" y2="210.2" stroke="#666" stroke-width="1"/>
<text transform="translate(26.5,212.3) scale(0.9,1)" text-anchor="end" class="tkd">90</text>
<line x1="31.3" y1="200.6" x2="33.5" y2="200.6" stroke="#777" stroke-width="0.9"/>
<line x1="29.5" y1="191.1" x2="33.5" y2="191.1" stroke="#666" stroke-width="1"/>
<text transform="translate(26.5,193.2) scale(0.9,1)" text-anchor="end" class="tkd">100</text>
<line x1="31.3" y1="181.5" x2="33.5" y2="181.5" stroke="#777" stroke-width="0.9"/>
<line x1="29.5" y1="171.9" x2="33.5" y2="171.9" stroke="#666" stroke-width="1"/>
<text transform="translate(26.5,174.0) scale(0.9,1)" text-anchor="end" class="tkd">110</text>
<line x1="31.3" y1="162.4" x2="33.5" y2="162.4" stroke="#777" stroke-width="0.9"/>
<line x1="29.5" y1="152.8" x2="33.5" y2="152.8" stroke="#666" stroke-width="1"/>
<text transform="translate(26.5,154.9) scale(0.9,1)" text-anchor="end" class="tkd">120</text>
<line x1="33.8" y1="287.0" x2="33.8" y2="290.2" stroke="#666" stroke-width="1"/>
<text x="33.8" y="300.3" text-anchor="middle" class="tkd">0</text>
<line x1="65.5" y1="287.0" x2="65.5" y2="289.0" stroke="#777" stroke-width="0.9"/>
<line x1="97.2" y1="287.0" x2="97.2" y2="290.2" stroke="#666" stroke-width="1"/>
<text x="97.2" y="300.3" text-anchor="middle" class="tkd">10</text>
<line x1="128.8" y1="287.0" x2="128.8" y2="289.0" stroke="#777" stroke-width="0.9"/>
<line x1="160.6" y1="287.0" x2="160.6" y2="290.2" stroke="#666" stroke-width="1"/>
<text x="160.6" y="300.3" text-anchor="middle" class="tkd">20</text>
<line x1="192.2" y1="287.0" x2="192.2" y2="289.0" stroke="#777" stroke-width="0.9"/>
<line x1="223.9" y1="287.0" x2="223.9" y2="290.2" stroke="#666" stroke-width="1"/>
<text x="223.9" y="300.3" text-anchor="middle" class="tkd">30</text>
<line x1="255.7" y1="287.0" x2="255.7" y2="289.0" stroke="#777" stroke-width="0.9"/>
<line x1="287.4" y1="287.0" x2="287.4" y2="290.2" stroke="#666" stroke-width="1"/>
<text x="287.4" y="300.3" text-anchor="middle" class="tkd">40</text>
<line x1="319.1" y1="287.0" x2="319.1" y2="289.0" stroke="#777" stroke-width="0.9"/>
<line x1="350.8" y1="287.0" x2="350.8" y2="290.2" stroke="#666" stroke-width="1"/>
<text x="350.8" y="300.3" text-anchor="middle" class="tkd">50</text>
<defs>
<radialGradient id="rb" cx="0.36" cy="0.32" r="0.7"><stop offset="0" stop-color="#8fa6ff"/><stop offset="0.45" stop-color="#2a4cf5"/><stop offset="1" stop-color="#0c1cb8"/></radialGradient>
<radialGradient id="rg" cx="0.36" cy="0.32" r="0.7"><stop offset="0" stop-color="#7fd27f"/><stop offset="0.45" stop-color="#1a961a"/><stop offset="1" stop-color="#0a640a"/></radialGradient>
<radialGradient id="ro" cx="0.36" cy="0.32" r="0.7"><stop offset="0" stop-color="#ffe2a0"/><stop offset="0.45" stop-color="#eda82a"/><stop offset="1" stop-color="#c88a10"/></radialGradient>
</defs>
<circle cx="52.8" cy="191.9" r="1.75" fill="url(#rb)"/>
<circle cx="59.1" cy="191.0" r="1.75" fill="url(#rb)"/>
<circle cx="65.5" cy="189.9" r="1.75" fill="url(#rb)"/>
<circle cx="71.8" cy="188.7" r="1.75" fill="url(#rb)"/>
<circle cx="78.1" cy="188.3" r="1.75" fill="url(#rb)"/>
<circle cx="84.5" cy="187.6" r="1.75" fill="url(#rb)"/>
<circle cx="90.8" cy="186.8" r="1.75" fill="url(#rb)"/>
<circle cx="97.2" cy="186.1" r="1.75" fill="url(#rb)"/>
<circle cx="103.5" cy="185.9" r="1.75" fill="url(#rb)"/>
<circle cx="109.8" cy="185.9" r="1.75" fill="url(#rb)"/>
<circle cx="116.2" cy="185.9" r="1.75" fill="url(#rb)"/>
<circle cx="122.5" cy="185.9" r="1.75" fill="url(#rb)"/>
<circle cx="128.8" cy="185.6" r="1.75" fill="url(#rb)"/>
<circle cx="135.2" cy="186.1" r="1.75" fill="url(#rb)"/>
<circle cx="141.5" cy="186.3" r="1.75" fill="url(#rb)"/>
<circle cx="147.9" cy="187.0" r="1.75" fill="url(#rb)"/>
<circle cx="154.2" cy="187.2" r="1.75" fill="url(#rb)"/>
<circle cx="160.6" cy="187.6" r="1.75" fill="url(#rb)"/>
<circle cx="166.9" cy="188.1" r="1.75" fill="url(#rb)"/>
<circle cx="173.2" cy="188.5" r="1.75" fill="url(#rb)"/>
<circle cx="179.6" cy="189.0" r="1.75" fill="url(#rb)"/>
<circle cx="185.9" cy="189.6" r="1.75" fill="url(#rb)"/>
<circle cx="192.2" cy="190.3" r="1.75" fill="url(#rb)"/>
<circle cx="198.6" cy="191.0" r="1.75" fill="url(#rb)"/>
<circle cx="204.9" cy="191.4" r="1.75" fill="url(#rb)"/>
<circle cx="211.3" cy="192.1" r="1.75" fill="url(#rb)"/>
<circle cx="217.6" cy="192.5" r="1.75" fill="url(#rb)"/>
<circle cx="223.9" cy="192.7" r="1.75" fill="url(#rb)"/>
<circle cx="230.3" cy="193.6" r="1.75" fill="url(#rb)"/>
<circle cx="236.6" cy="194.3" r="1.75" fill="url(#rb)"/>
<circle cx="243.0" cy="195.0" r="1.75" fill="url(#rb)"/>
<circle cx="249.3" cy="195.4" r="1.75" fill="url(#rb)"/>
<circle cx="255.7" cy="196.1" r="1.75" fill="url(#rb)"/>
<circle cx="262.0" cy="196.3" r="1.75" fill="url(#rb)"/>
<circle cx="268.3" cy="197.2" r="1.75" fill="url(#rb)"/>
<circle cx="274.7" cy="197.8" r="1.75" fill="url(#rb)"/>
<circle cx="281.0" cy="198.5" r="1.75" fill="url(#rb)"/>
<circle cx="287.4" cy="199.6" r="1.75" fill="url(#rb)"/>
<circle cx="293.7" cy="200.2" r="1.75" fill="url(#rb)"/>
<circle cx="300.0" cy="201.0" r="1.75" fill="url(#rb)"/>
<circle cx="306.4" cy="201.7" r="1.75" fill="url(#rb)"/>
<circle cx="312.7" cy="202.1" r="1.75" fill="url(#rb)"/>
<circle cx="319.1" cy="202.8" r="1.75" fill="url(#rb)"/>
<circle cx="325.4" cy="202.8" r="1.75" fill="url(#rb)"/>
<circle cx="331.7" cy="204.4" r="1.75" fill="url(#rb)"/>
<circle cx="338.1" cy="204.8" r="1.75" fill="url(#rb)"/>
<circle cx="344.4" cy="205.5" r="1.75" fill="url(#rb)"/>
<circle cx="350.8" cy="206.4" r="1.75" fill="url(#rb)"/>
<circle cx="52.8" cy="194.0" r="1.75" fill="url(#rg)"/>
<circle cx="59.1" cy="189.9" r="1.75" fill="url(#rg)"/>
<circle cx="65.5" cy="188.7" r="1.75" fill="url(#rg)"/>
<circle cx="71.8" cy="188.5" r="1.75" fill="url(#rg)"/>
<circle cx="78.1" cy="188.5" r="1.75" fill="url(#rg)"/>
<circle cx="84.5" cy="189.2" r="1.75" fill="url(#rg)"/>
<circle cx="90.8" cy="190.0" r="1.75" fill="url(#rg)"/>
<circle cx="97.2" cy="191.0" r="1.75" fill="url(#rg)"/>
<circle cx="103.5" cy="192.0" r="1.75" fill="url(#rg)"/>
<circle cx="109.8" cy="193.0" r="1.75" fill="url(#rg)"/>
<circle cx="116.2" cy="193.8" r="1.75" fill="url(#rg)"/>
<circle cx="122.5" cy="194.5" r="1.75" fill="url(#rg)"/>
<circle cx="128.8" cy="195.5" r="1.75" fill="url(#rg)"/>
<circle cx="135.2" cy="196.3" r="1.75" fill="url(#rg)"/>
<circle cx="141.5" cy="197.2" r="1.75" fill="url(#rg)"/>
<circle cx="147.9" cy="198.5" r="1.75" fill="url(#rg)"/>
<circle cx="154.2" cy="198.9" r="1.75" fill="url(#rg)"/>
<circle cx="160.6" cy="199.8" r="1.75" fill="url(#rg)"/>
<circle cx="166.9" cy="200.7" r="1.75" fill="url(#rg)"/>
<circle cx="173.2" cy="201.6" r="1.75" fill="url(#rg)"/>
<circle cx="179.6" cy="202.5" r="1.75" fill="url(#rg)"/>
<circle cx="185.9" cy="202.9" r="1.75" fill="url(#rg)"/>
<circle cx="192.2" cy="203.6" r="1.75" fill="url(#rg)"/>
<circle cx="198.6" cy="204.3" r="1.75" fill="url(#rg)"/>
<circle cx="204.9" cy="204.7" r="1.75" fill="url(#rg)"/>
<circle cx="211.3" cy="205.6" r="1.75" fill="url(#rg)"/>
<circle cx="217.6" cy="206.0" r="1.75" fill="url(#rg)"/>
<circle cx="223.9" cy="207.4" r="1.75" fill="url(#rg)"/>
<circle cx="230.3" cy="208.0" r="1.75" fill="url(#rg)"/>
<circle cx="236.6" cy="208.3" r="1.75" fill="url(#rg)"/>
<circle cx="243.0" cy="208.9" r="1.75" fill="url(#rg)"/>
<circle cx="249.3" cy="209.8" r="1.75" fill="url(#rg)"/>
<circle cx="255.7" cy="210.5" r="1.75" fill="url(#rg)"/>
<circle cx="262.0" cy="210.7" r="1.75" fill="url(#rg)"/>
<circle cx="268.3" cy="210.9" r="1.75" fill="url(#rg)"/>
<circle cx="274.7" cy="212.0" r="1.75" fill="url(#rg)"/>
<circle cx="281.0" cy="212.0" r="1.75" fill="url(#rg)"/>
<circle cx="287.4" cy="212.8" r="1.75" fill="url(#rg)"/>
<circle cx="293.7" cy="214.0" r="1.75" fill="url(#rg)"/>
<circle cx="300.0" cy="214.4" r="1.75" fill="url(#rg)"/>
<circle cx="306.4" cy="215.6" r="1.75" fill="url(#rg)"/>
<circle cx="312.7" cy="216.0" r="1.75" fill="url(#rg)"/>
<circle cx="319.1" cy="216.8" r="1.75" fill="url(#rg)"/>
<circle cx="325.4" cy="216.8" r="1.75" fill="url(#rg)"/>
<circle cx="331.7" cy="217.2" r="1.75" fill="url(#rg)"/>
<circle cx="338.1" cy="216.7" r="1.75" fill="url(#rg)"/>
<circle cx="344.4" cy="217.9" r="1.75" fill="url(#rg)"/>
<circle cx="350.8" cy="218.4" r="1.75" fill="url(#rg)"/>
<circle cx="46.4" cy="190.5" r="1.75" fill="url(#ro)"/>
<circle cx="52.8" cy="192.7" r="1.75" fill="url(#ro)"/>
<circle cx="59.1" cy="196.5" r="1.75" fill="url(#ro)"/>
<circle cx="65.5" cy="200.7" r="1.75" fill="url(#ro)"/>
<circle cx="71.8" cy="204.3" r="1.75" fill="url(#ro)"/>
<circle cx="78.1" cy="207.4" r="1.75" fill="url(#ro)"/>
<circle cx="84.5" cy="210.0" r="1.75" fill="url(#ro)"/>
<circle cx="90.8" cy="213.1" r="1.75" fill="url(#ro)"/>
<circle cx="97.2" cy="214.9" r="1.75" fill="url(#ro)"/>
<circle cx="103.5" cy="217.1" r="1.75" fill="url(#ro)"/>
<circle cx="109.8" cy="219.3" r="1.75" fill="url(#ro)"/>
<circle cx="116.2" cy="221.1" r="1.75" fill="url(#ro)"/>
<circle cx="122.5" cy="222.2" r="1.75" fill="url(#ro)"/>
<circle cx="128.8" cy="223.0" r="1.75" fill="url(#ro)"/>
<circle cx="135.2" cy="224.4" r="1.75" fill="url(#ro)"/>
<circle cx="141.5" cy="224.9" r="1.75" fill="url(#ro)"/>
<circle cx="147.9" cy="225.6" r="1.75" fill="url(#ro)"/>
<circle cx="154.2" cy="225.6" r="1.75" fill="url(#ro)"/>
<circle cx="160.6" cy="225.6" r="1.75" fill="url(#ro)"/>
<circle cx="166.9" cy="225.3" r="1.75" fill="url(#ro)"/>
<circle cx="173.2" cy="225.1" r="1.75" fill="url(#ro)"/>
<circle cx="179.6" cy="224.6" r="1.75" fill="url(#ro)"/>
<circle cx="185.9" cy="225.1" r="1.75" fill="url(#ro)"/>
<circle cx="192.2" cy="225.8" r="1.75" fill="url(#ro)"/>
<circle cx="198.6" cy="225.8" r="1.75" fill="url(#ro)"/>
<circle cx="204.9" cy="225.1" r="1.75" fill="url(#ro)"/>
<circle cx="211.3" cy="224.9" r="1.75" fill="url(#ro)"/>
<circle cx="217.6" cy="225.1" r="1.75" fill="url(#ro)"/>
<circle cx="223.9" cy="225.0" r="1.75" fill="url(#ro)"/>
<circle cx="230.3" cy="225.6" r="1.75" fill="url(#ro)"/>
<circle cx="236.6" cy="225.3" r="1.75" fill="url(#ro)"/>
<circle cx="243.0" cy="226.2" r="1.75" fill="url(#ro)"/>
<circle cx="249.3" cy="226.0" r="1.75" fill="url(#ro)"/>
<circle cx="255.7" cy="225.6" r="1.75" fill="url(#ro)"/>
<circle cx="262.0" cy="226.2" r="1.75" fill="url(#ro)"/>
<circle cx="268.3" cy="226.7" r="1.75" fill="url(#ro)"/>
<circle cx="274.7" cy="227.5" r="1.75" fill="url(#ro)"/>
<circle cx="281.0" cy="227.9" r="1.75" fill="url(#ro)"/>
<circle cx="287.4" cy="228.2" r="1.75" fill="url(#ro)"/>
<circle cx="293.7" cy="228.5" r="1.75" fill="url(#ro)"/>
<circle cx="300.0" cy="229.1" r="1.75" fill="url(#ro)"/>
<circle cx="306.4" cy="230.4" r="1.75" fill="url(#ro)"/>
<circle cx="312.7" cy="230.8" r="1.75" fill="url(#ro)"/>
<circle cx="319.1" cy="231.4" r="1.75" fill="url(#ro)"/>
<circle cx="325.4" cy="231.8" r="1.75" fill="url(#ro)"/>
<circle cx="331.7" cy="232.0" r="1.75" fill="url(#ro)"/>
<circle cx="338.1" cy="233.0" r="1.75" fill="url(#ro)"/>
<circle cx="344.4" cy="233.4" r="1.75" fill="url(#ro)"/>
<circle cx="350.8" cy="233.8" r="1.75" fill="url(#ro)"/>
<circle cx="72.3" cy="258.1" r="1.6" fill="url(#ro)"/>
<text x="80.6" y="261.0" class="lgd">3-NTMO<tspan dy="2" font-size="5.5">2</tspan></text>
<circle cx="72.3" cy="269.5" r="1.6" fill="url(#rg)"/>
<text x="80.6" y="272.4" class="lgd">5-NTMO<tspan dy="2" font-size="5.5">2</tspan></text>
<circle cx="72.3" cy="280.90000000000003" r="1.6" fill="url(#rb)"/>
<text x="80.6" y="283.8" class="lgd">7-NTMO<tspan dy="2" font-size="5.5">2</tspan></text>
<text x="38.1" y="166.1" class="pl">d)</text>
<text x="186.7" y="311.9" text-anchor="middle" class="atd">Cycle Number</text>
<text transform="translate(10.2,219.7) rotate(-90)" text-anchor="middle" class="atd">Capacity Retention (%)</text>
<defs>
<linearGradient id="gk" x1="0" y1="0" x2="0" y2="1"><stop offset="0" stop-color="#050505"/><stop offset="1" stop-color="#454545"/></linearGradient>
<linearGradient id="go" x1="0" y1="0" x2="0" y2="1"><stop offset="0" stop-color="#f2a200"/><stop offset="1" stop-color="#8a6412"/></linearGradient>
<linearGradient id="gb" x1="0" y1="0" x2="0" y2="1"><stop offset="0" stop-color="#5cc0f2"/><stop offset="1" stop-color="#135a8c"/></linearGradient>
</defs>
<rect x="444.2" y="161.2" width="17.3" height="115.60000000000002" fill="url(#gk)" stroke="#3a2a10" stroke-opacity="0.55" stroke-width="0.7"/>
<rect x="461.5" y="180.5" width="17.3" height="96.30000000000001" fill="url(#go)" stroke="#3a2a10" stroke-opacity="0.55" stroke-width="0.7"/>
<rect x="478.8" y="211.7" width="17.3" height="65.10000000000002" fill="url(#gb)" stroke="#3a2a10" stroke-opacity="0.55" stroke-width="0.7"/>
<rect x="501.9" y="174.2" width="17.3" height="102.60000000000002" fill="url(#gk)" stroke="#3a2a10" stroke-opacity="0.55" stroke-width="0.7"/>
<rect x="519.5" y="193.7" width="17.3" height="83.10000000000002" fill="url(#go)" stroke="#3a2a10" stroke-opacity="0.55" stroke-width="0.7"/>
<rect x="536.6" y="211.9" width="17.3" height="64.9" fill="url(#gb)" stroke="#3a2a10" stroke-opacity="0.55" stroke-width="0.7"/>
<rect x="559.6" y="175.7" width="17.3" height="101.10000000000002" fill="url(#gk)" stroke="#3a2a10" stroke-opacity="0.55" stroke-width="0.7"/>
<rect x="576.8" y="195.4" width="17.3" height="81.4" fill="url(#go)" stroke="#3a2a10" stroke-opacity="0.55" stroke-width="0.7"/>
<rect x="594.0" y="208.8" width="17.3" height="68.0" fill="url(#gb)" stroke="#3a2a10" stroke-opacity="0.55" stroke-width="0.7"/>
<line x1="441.0" y1="155.3" x2="441.0" y2="276.8" stroke="#6e6e6e" stroke-width="1.2"/>
<line x1="438.4" y1="276.8" x2="441.0" y2="276.8" stroke="#666" stroke-width="1"/>
<text transform="translate(436.4,280.3) scale(0.9,1)" text-anchor="end" class="tke">0</text>
<line x1="439.2" y1="266.7" x2="441.0" y2="266.7" stroke="#888" stroke-width="0.8"/>
<line x1="438.4" y1="256.6" x2="441.0" y2="256.6" stroke="#666" stroke-width="1"/>
<text transform="translate(436.4,260.1) scale(0.9,1)" text-anchor="end" class="tke">100</text>
<line x1="439.2" y1="246.4" x2="441.0" y2="246.4" stroke="#888" stroke-width="0.8"/>
<line x1="438.4" y1="236.3" x2="441.0" y2="236.3" stroke="#666" stroke-width="1"/>
<text transform="translate(436.4,239.8) scale(0.9,1)" text-anchor="end" class="tke">200</text>
<line x1="439.2" y1="226.2" x2="441.0" y2="226.2" stroke="#888" stroke-width="0.8"/>
<line x1="438.4" y1="216.1" x2="441.0" y2="216.1" stroke="#666" stroke-width="1"/>
<text transform="translate(436.4,219.6) scale(0.9,1)" text-anchor="end" class="tke">300</text>
<line x1="439.2" y1="205.9" x2="441.0" y2="205.9" stroke="#888" stroke-width="0.8"/>
<line x1="438.4" y1="195.8" x2="441.0" y2="195.8" stroke="#666" stroke-width="1"/>
<text transform="translate(436.4,199.3) scale(0.9,1)" text-anchor="end" class="tke">400</text>
<line x1="439.2" y1="185.7" x2="441.0" y2="185.7" stroke="#888" stroke-width="0.8"/>
<line x1="438.4" y1="175.6" x2="441.0" y2="175.6" stroke="#666" stroke-width="1"/>
<text transform="translate(436.4,179.1) scale(0.9,1)" text-anchor="end" class="tke">500</text>
<line x1="439.2" y1="165.4" x2="441.0" y2="165.4" stroke="#888" stroke-width="0.8"/>
<line x1="438.4" y1="155.3" x2="441.0" y2="155.3" stroke="#666" stroke-width="1"/>
<text transform="translate(436.4,158.8) scale(0.9,1)" text-anchor="end" class="tke">600</text>
<line x1="441.0" y1="276.8" x2="614.6" y2="276.8" stroke="#7a7a7a" stroke-width="1.1"/>
<line x1="441.0" y1="290.6" x2="614.6" y2="290.6" stroke="#7a7a7a" stroke-width="1"/>
<line x1="441.0" y1="305.3" x2="614.6" y2="305.3" stroke="#7a7a7a" stroke-width="1.2"/>
<line x1="441.0" y1="276.8" x2="441.0" y2="305.3" stroke="#7a7a7a" stroke-width="1"/>
<line x1="499.0" y1="276.8" x2="499.0" y2="305.3" stroke="#7a7a7a" stroke-width="1"/>
<line x1="556.6" y1="276.8" x2="556.6" y2="305.3" stroke="#7a7a7a" stroke-width="1"/>
<line x1="614.6" y1="276.8" x2="614.6" y2="305.3" stroke="#7a7a7a" stroke-width="1"/>
<line x1="461.5" y1="276.8" x2="461.5" y2="290.6" stroke="#7a7a7a" stroke-width="1"/>
<line x1="478.8" y1="276.8" x2="478.8" y2="290.6" stroke="#7a7a7a" stroke-width="1"/>
<line x1="519.5" y1="276.8" x2="519.5" y2="290.6" stroke="#7a7a7a" stroke-width="1"/>
<line x1="536.3" y1="276.8" x2="536.3" y2="290.6" stroke="#7a7a7a" stroke-width="1"/>
<line x1="576.5" y1="276.8" x2="576.5" y2="290.6" stroke="#7a7a7a" stroke-width="1"/>
<line x1="594.1" y1="276.8" x2="594.1" y2="290.6" stroke="#7a7a7a" stroke-width="1"/>
<text x="451.6" y="287.2" text-anchor="middle" class="tb">1<tspan dy="-3" font-size="5.2">st</tspan></text>
<text x="470.5" y="287.2" text-anchor="middle" class="tb">2<tspan dy="-3" font-size="5.2">nd</tspan></text>
<text x="489.3" y="287.2" text-anchor="middle" class="tb">50<tspan dy="-3" font-size="5.2">th</tspan></text>
<text x="470.0" y="301.2" text-anchor="middle" class="tb">3-NTMO<tspan dy="2.2" font-size="5.9">2</tspan></text>
<text x="509.6" y="287.2" text-anchor="middle" class="tb">1<tspan dy="-3" font-size="5.2">st</tspan></text>
<text x="528.3" y="287.2" text-anchor="middle" class="tb">2<tspan dy="-3" font-size="5.2">nd</tspan></text>
<text x="546.9" y="287.2" text-anchor="middle" class="tb">50<tspan dy="-3" font-size="5.2">th</tspan></text>
<text x="527.8" y="301.2" text-anchor="middle" class="tb">5-NTMO<tspan dy="2.2" font-size="5.9">2</tspan></text>
<text x="566.9" y="287.2" text-anchor="middle" class="tb">1<tspan dy="-3" font-size="5.2">st</tspan></text>
<text x="585.7" y="287.2" text-anchor="middle" class="tb">2<tspan dy="-3" font-size="5.2">nd</tspan></text>
<text x="604.8" y="287.2" text-anchor="middle" class="tb">50<tspan dy="-3" font-size="5.2">th</tspan></text>
<text x="585.6" y="301.2" text-anchor="middle" class="tb">7-NTMO<tspan dy="2.2" font-size="5.9">2</tspan></text>
<text x="443.4" y="156.6" class="pl">e)</text>
<text transform="translate(418.8,216.5) rotate(-90)" text-anchor="middle" class="ate">Specific Energy (Wh/kg)</text>
</svg>
</body></html>
